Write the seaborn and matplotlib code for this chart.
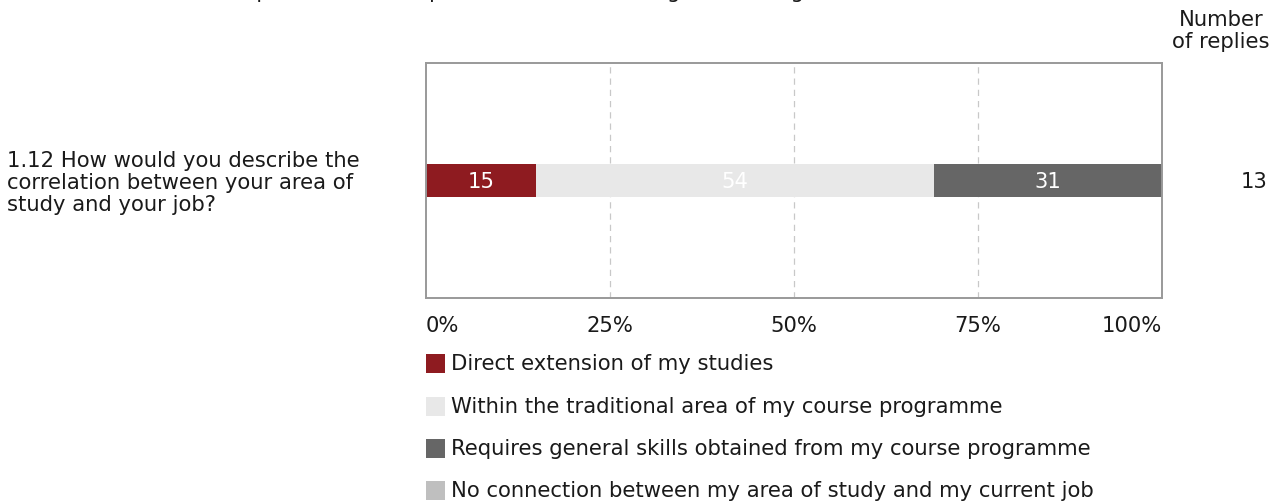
import matplotlib
matplotlib.use("Agg")
import matplotlib.pyplot as plt
from matplotlib.patches import Rectangle
import seaborn as sns
import pandas as pd
import numpy as np

# ---- data ----
header = "The total number of respondents and replies is shown to the right of the figure."
question = "1.12 How would you describe the\ncorrelation between your area of\nstudy and your job?"
categories = [
    "Direct extension of my studies",
    "Within the traditional area of my course programme",
    "Requires general skills obtained from my course programme",
    "No connection between my area of study and my current job",
]
percentages = [15, 54, 31, 0]
colors = ["#8E1B20", "#E8E8E8", "#666666", "#BFBFBF"]
n_replies = [13]
tick_values = [0, 25, 50, 75, 100]
tick_labels = ["0%", "25%", "50%", "75%", "100%"]

W, H = 1282, 502
FS = 15.2

sns.set_theme(style="white")
plt.rcParams["font.family"] = ["DejaVu Sans"]

fig = plt.figure(figsize=(W / 100, H / 100), dpi=100)
fig.patch.set_facecolor("white")

def fx(px):
    return px / W

def fy(py):
    return 1 - py / H

ax = fig.add_axes([fx(426), fy(299), fx(1162) - fx(426), fy(64) - fy(299)])

cum = np.cumsum(percentages)
df = pd.DataFrame({
    "question": ["q"] * len(categories),
    "category": categories,
    "pct": percentages,
    "cum": cum,
})
# draw largest cumulative first (later categories underneath), smaller overlay
order = sorted(range(len(categories)), key=lambda i: (-cum[i], -i))
hue_order = [categories[i] for i in order]
palette = {c: col for c, col in zip(categories, colors)}
sns.barplot(data=df, x="cum", y="question", hue="category", hue_order=hue_order,
            palette=palette, dodge=False, orient="h", width=0.14, saturation=1,
            legend=False, ax=ax, linewidth=0)

for p, c in zip(percentages, cum):
    if p > 0:
        ax.text(c - p / 2, 0, str(p), color="white", ha="center", va="center",
                fontsize=FS)

ax.set_xlim(0, 100)
ax.set_ylim(0.5, -0.5)
ax.set_yticks([])
ax.set_ylabel("")
ax.set_xlabel("")
ax.set_xticks(tick_values, tick_labels)
ax.tick_params(axis="x", length=0, pad=12, labelsize=FS, colors="#1a1a1a")
labs = ax.get_xticklabels()
labs[0].set_ha("left")
labs[-1].set_ha("right")
for v in tick_values[1:-1]:
    ax.axvline(v, color="#C8C8C8", linestyle=(0, (5, 4)), linewidth=0.9, zorder=0)
for s in ax.spines.values():
    s.set_color("#999999")
    s.set_linewidth(1.4)
ax.set_facecolor("white")

# question label
fig.text(fx(7), fy(183), question, ha="left", va="center", fontsize=FS,
         color="#1a1a1a", linespacing=1.12)

# header (cut off at top)
fig.text(fx(7), 1 + 2.0 / H, header, ha="left", va="baseline", fontsize=FS, color="#1a1a1a")

# Number of replies
fig.text(fx(1221), fy(31), "Number\nof replies", ha="center", va="center",
         fontsize=FS, color="#1a1a1a", linespacing=1.1)
fig.text(fx(1268), fy(182), str(n_replies[0]), ha="right", va="center",
         fontsize=FS, color="#1a1a1a")

# legend
rows = [364, 407, 449, 491]
for cat, col, ry in zip(categories, colors, rows):
    fig.add_artist(Rectangle((fx(426), fy(ry + 9.5)), fx(19), 19 / H,
                             transform=fig.transFigure, facecolor=col,
                             edgecolor="none"))
    fig.text(fx(451), fy(ry), cat, ha="left", va="center", fontsize=FS,
             color="#1a1a1a")

fig.savefig("out.png", dpi=100, facecolor="white")
